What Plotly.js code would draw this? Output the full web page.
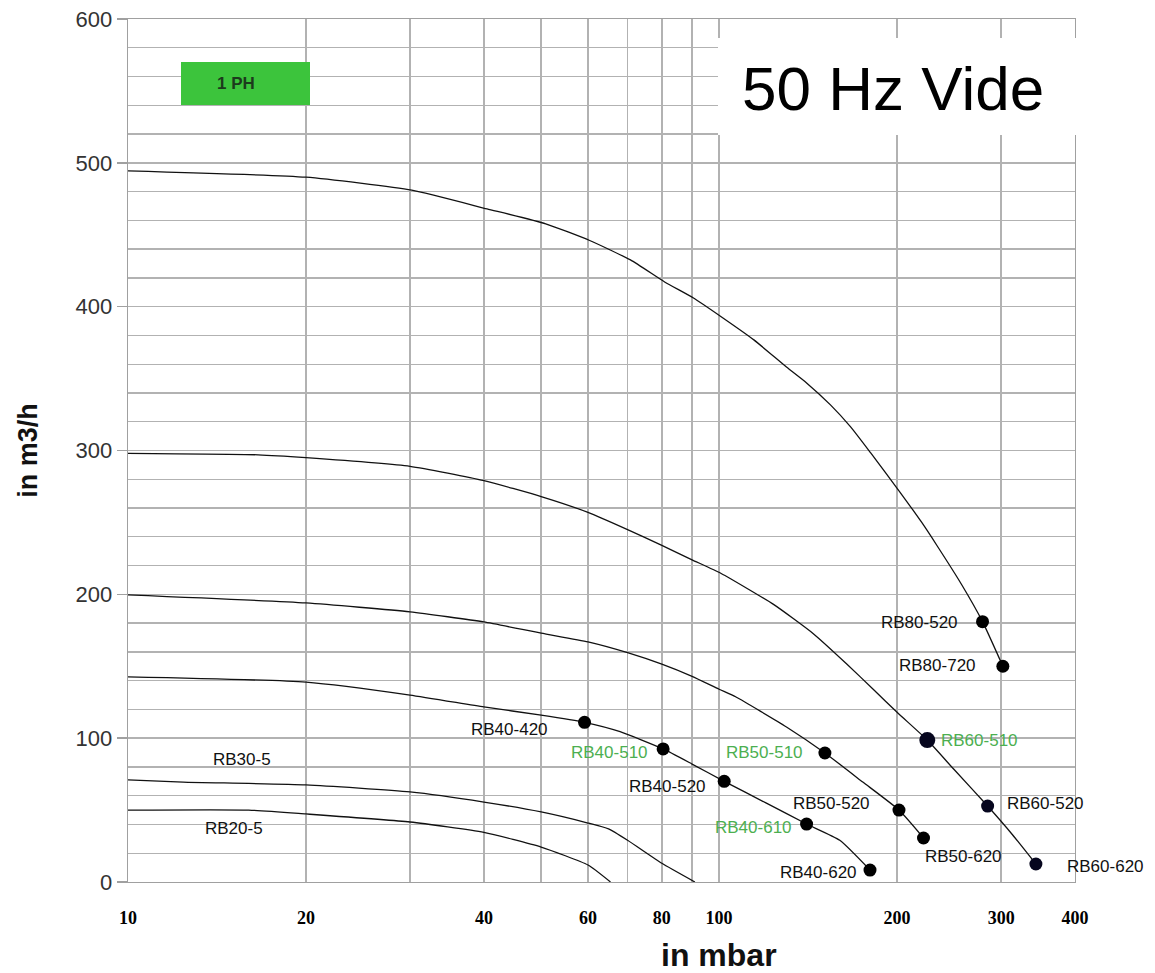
<!DOCTYPE html>
<html>
<head>
<meta charset="utf-8">
<script src="https://cdn.plot.ly/plotly-3.0.1.min.js"></script>
<style>html,body{margin:0;padding:0;background:#fff}#chart{width:1155px;height:973px}</style>
</head>
<body>
<div id="chart"></div>
<script>
// ---- Data ----
const rb80X = [10, 20, 30.2, 40.5, 50.9, 60.4, 70.8, 81, 90.5, 100.8, 114.5, 130, 140.6, 154.3, 166.9, 180.5, 201.5, 219.9, 233.9, 257, 279, 302];
const rb80Y = [494.4, 490, 481, 468, 457.6, 446, 432.5, 417, 406, 393, 376.9, 358, 347, 331.7, 316.4, 298.3, 272, 250.3, 233.6, 207, 181, 150];

const rb60X = [10, 16.6, 20, 30, 40, 50, 60, 70, 80, 90, 100.8, 123.6, 144.5, 164.4, 182.8, 200, 225, 250, 284.6, 313.8, 343.5];
const rb60Y = [298, 297, 295, 289, 279, 268, 257, 245, 234, 224, 214.5, 193, 172.5, 151.6, 133.5, 118, 98.7, 78, 52.8, 32.7, 12.5];

const rb50X = [10, 20, 30, 40, 50, 60, 70, 80, 90, 100, 106.8, 130, 151, 175, 201.5, 221.7];
const rb50Y = [199.6, 194, 187.8, 180.8, 173, 167, 159.5, 151.5, 143, 134, 128.6, 107.8, 89.7, 69.5, 50, 30.6];

const rb40X = [10, 20, 30, 40, 50, 59.2, 68, 80.4, 90, 102, 120, 140.6, 160, 180];
const rb40Y = [142.6, 139, 130, 121.7, 116, 111, 104.5, 92.5, 82, 70, 55, 40.3, 29, 8.3];

const rb30X = [10, 12.4, 20, 30, 40, 50, 60, 65, 70, 80, 91];
const rb30Y = [71, 69.5, 67.5, 62.6, 55.6, 48.7, 41, 36.9, 29, 13, 0];

const rb20X = [10, 16, 20, 30, 40, 50, 60, 65.5];
const rb20Y = [50, 50, 47.3, 41.7, 34.5, 24.3, 11.8, 0];

const pointNames = ["RB40-420", "RB40-510", "RB40-520", "RB40-610", "RB40-620",
                    "RB50-510", "RB50-520", "RB50-620",
                    "RB60-510", "RB60-520", "RB60-620",
                    "RB80-520", "RB80-720"];
const pointX = [59.2, 80.4, 102, 140.6, 180, 151, 201.5, 221.7, 225, 284.6, 343.5, 279, 302];
const pointY = [111, 92.5, 70, 40.3, 8.3, 89.7, 50, 30.6, 98.7, 52.8, 12.5, 181, 150];
const greenNames = ["RB40-510", "RB40-610", "RB50-510", "RB60-510"];

const curveLabels = ["RB30-5", "RB20-5"];
const curveLabelX = [15.6, 15.1];
const curveLabelY = [85.5, 37];

const xTickVals = [10, 20, 30, 40, 50, 60, 70, 80, 90, 100, 200, 300, 400];
const xTickText = ["10", "20", "", "40", "", "60", "", "80", "", "100", "200", "300", "400"];

// ---- Label placement (styling) ----
const labelPlace = {
  "RB40-420": ["right", -35, -7],
  "RB40-510": ["right", -13, -4],
  "RB40-520": ["right", -16, -5],
  "RB40-610": ["right", -13, -3],
  "RB40-620": ["right", -11, -2],
  "RB50-510": ["right", -20, 0],
  "RB50-520": ["right", -27, 7],
  "RB50-620": ["left", -1, -19],
  "RB60-510": ["left", 12, 0],
  "RB60-520": ["left", 17, 3],
  "RB60-620": ["left", 29, -2],
  "RB80-520": ["right", -23, -1],
  "RB80-720": ["right", -25, 1]
};

const lineStyle = {color: "#111", width: 1.3, shape: "spline", smoothing: 0.5};
function curve(x, y) {
  return {x: x, y: y, type: "scatter", mode: "lines", line: lineStyle, hoverinfo: "skip", showlegend: false};
}

const traces = [
  curve(rb80X, rb80Y), curve(rb60X, rb60Y), curve(rb50X, rb50Y),
  curve(rb40X, rb40Y), curve(rb30X, rb30Y), curve(rb20X, rb20Y),
  {x: pointX, y: pointY, type: "scatter", mode: "markers",
   marker: {color: pointNames.map(n => n.startsWith("RB60") ? "#06061e" : "#000"),
            size: pointNames.map(n => n === "RB60-510" ? 16 : 13),
            opacity: 1, line: {width: 0}},
   opacity: 1, hoverinfo: "skip", showlegend: false}
];

const labelFont = {family: "Arial, 'Liberation Sans', sans-serif", size: 17};
const annotations = [];
pointNames.forEach((n, i) => {
  const p = labelPlace[n];
  annotations.push({
    x: Math.log10(pointX[i]), y: pointY[i], xref: "x", yref: "y",
    text: n, showarrow: false, xanchor: p[0], yanchor: "middle",
    xshift: p[1], yshift: p[2],
    font: Object.assign({}, labelFont, {color: greenNames.includes(n) ? "#4caf50" : "#111"})
  });
});
curveLabels.forEach((t, i) => {
  annotations.push({
    x: Math.log10(curveLabelX[i]), y: curveLabelY[i], xref: "x", yref: "y",
    text: t, showarrow: false, xanchor: "center", yanchor: "middle",
    font: Object.assign({}, labelFont, {color: "#111"})
  });
});
// x-axis title
annotations.push({
  x: (719 - 128) / 947, y: (882 - 955) / 863, xref: "paper", yref: "paper",
  text: "in mbar", showarrow: false, xanchor: "center", yanchor: "middle",
  font: {family: "Arial, 'Liberation Sans', sans-serif", size: 32, weight: "bold", color: "#111"}
});
// 50 Hz Vide
annotations.push({
  x: (893 - 128) / 947, y: (882 - 88) / 863, xref: "paper", yref: "paper",
  text: "50 Hz Vide", showarrow: false, xanchor: "center", yanchor: "middle",
  font: {family: "Arial, 'Liberation Sans', sans-serif", size: 62, color: "#000"}
});
// 1 PH
annotations.push({
  x: (236 - 128) / 947, y: (882 - 83) / 863, xref: "paper", yref: "paper",
  text: "1 PH", showarrow: false, xanchor: "center", yanchor: "middle",
  font: {family: "Arial, 'Liberation Sans', sans-serif", size: 17, weight: "bold", color: "#1c3a1c"}
});

const gridColor = "#b2b2b2";
const layout = {
  width: 1155, height: 973,
  margin: {l: 128, r: 80, t: 19, b: 91, pad: 0},
  paper_bgcolor: "#fff", plot_bgcolor: "#fff",
  showlegend: false,
  xaxis: {
    type: "log", range: [1, Math.log10(400)],
    tickmode: "array", tickvals: xTickVals, ticktext: xTickText,
    showgrid: true, gridcolor: gridColor, gridwidth: 1.4,
    showline: true, linecolor: "#a0a0a0", linewidth: 1.4, mirror: true,
    ticks: "", ticklabelstandoff: 19,
    tickfont: {family: "'Times New Roman', 'Liberation Serif', serif", size: 18, weight: "bold", color: "#000"},
    zeroline: false, fixedrange: true
  },
  yaxis: {
    range: [0, 600], dtick: 100, tick0: 0,
    showgrid: true, gridcolor: gridColor, gridwidth: 1.4,
    minor: {dtick: 20, showgrid: true, gridcolor: gridColor, gridwidth: 1.4},
    showline: true, linecolor: "#a0a0a0", linewidth: 1.4, mirror: true,
    ticks: "outside", ticklen: 10, tickcolor: "#a0a0a0", tickwidth: 1.4,
    tickfont: {family: "Arial, 'Liberation Sans', sans-serif", size: 22, color: "#333"},
    title: {text: "in m3/h", standoff: 30,
            font: {family: "Arial, 'Liberation Sans', sans-serif", size: 27, weight: "bold", color: "#111"}},
    zeroline: false, fixedrange: true
  },
  shapes: [
    {type: "rect", xref: "paper", yref: "paper", layer: "above",
     x0: (718 - 128) / 947, x1: (1080 - 128) / 947, y0: (882 - 135) / 863, y1: (882 - 38) / 863,
     fillcolor: "#fff", line: {width: 0}},
    {type: "rect", xref: "paper", yref: "paper", layer: "above",
     x0: (181 - 128) / 947, x1: (310 - 128) / 947, y0: (882 - 105) / 863, y1: (882 - 62) / 863,
     fillcolor: "#3cc43c", line: {width: 0}}
  ],
  annotations: annotations
};

Plotly.newPlot("chart", traces, layout, {displayModeBar: false, staticPlot: true});
</script>
</body>
</html>
